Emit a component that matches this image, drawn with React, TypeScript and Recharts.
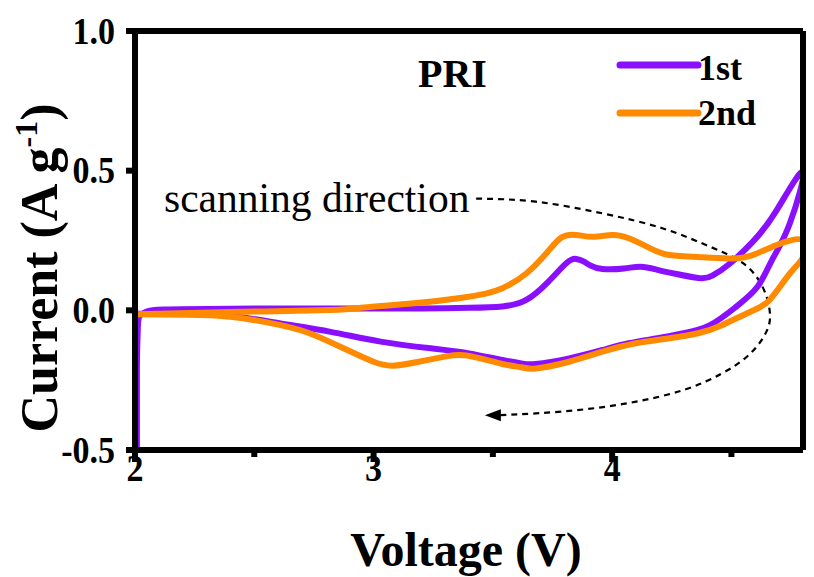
import React from "react";
import { LineChart, Line, XAxis, YAxis, Customized, ReferenceLine } from "recharts";

// 1st cycle (voltage, current)
const firstV = [2.008, 2.008, 2.012, 2.02, 2.05, 2.12, 2.4, 2.8, 3.2, 3.4, 3.54, 3.64, 3.73, 3.81, 3.85, 3.88, 3.91, 3.96, 4.05, 4.12, 4.19, 4.27, 4.37, 4.42, 4.49, 4.59, 4.69, 4.8,
  4.745, 4.67, 4.61, 4.52, 4.41, 4.3, 4.19, 4.07, 3.96, 3.82, 3.68, 3.62, 3.54, 3.4, 3.24, 3.03, 2.82, 2.61, 2.4, 2.2, 2.0];
const firstI = [-0.5, -0.2, -0.06, -0.02, -0.004, 0.003, 0.006, 0.007, 0.007, 0.009, 0.014, 0.037, 0.1, 0.17, 0.184, 0.175, 0.16, 0.148, 0.15, 0.156, 0.145, 0.13, 0.115, 0.124, 0.165, 0.246, 0.359, 0.496,
  0.312, 0.18, 0.085, 0.013, -0.053, -0.082, -0.1, -0.118, -0.142, -0.172, -0.192, -0.19, -0.178, -0.154, -0.136, -0.112, -0.077, -0.047, -0.02, -0.012, -0.012];

// 2nd cycle
const secondV = [2.0, 2.1, 2.4, 2.82, 2.96, 3.17, 3.37, 3.47, 3.54, 3.64, 3.73, 3.79, 3.85, 3.92, 4.0, 4.07, 4.16, 4.24, 4.38, 4.51, 4.59, 4.69, 4.8,
  4.8, 4.745, 4.66, 4.58, 4.46, 4.36, 4.24, 4.1, 3.96, 3.82, 3.68, 3.62, 3.54, 3.4, 3.31, 3.19, 3.08, 3.0, 2.89, 2.75, 2.61, 2.4, 2.2, 2.0];
const secondI = [-0.014, -0.012, -0.006, 0.001, 0.01, 0.025, 0.045, 0.06, 0.079, 0.132, 0.21, 0.262, 0.27, 0.263, 0.27, 0.258, 0.222, 0.198, 0.19, 0.186, 0.198, 0.234, 0.252,
  0.19, 0.132, 0.037, -0.005, -0.053, -0.082, -0.1, -0.118, -0.148, -0.184, -0.208, -0.204, -0.192, -0.163, -0.164, -0.184, -0.198, -0.184, -0.142, -0.088, -0.053, -0.023, -0.016, -0.014];

// scanning-direction guide (annotation)
const arrowV = [3.43, 3.68, 3.96, 4.21, 4.41, 4.55, 4.63, 4.66, 4.65, 4.58, 4.46, 4.3, 4.1, 3.89, 3.68, 3.5];
const arrowI = [0.4, 0.389, 0.347, 0.294, 0.228, 0.168, 0.085, 0.001, -0.07, -0.154, -0.226, -0.285, -0.327, -0.354, -0.369, -0.376];

const xTicks = [2, 2.5, 3, 3.5, 4, 4.5];
const yTicks = [-0.5, 0, 0.5, 1.0];
const xDomain = [2, 4.8];
const yDomain = [-0.5, 1.0];

const seriesNames = ["1st", "2nd"];
const colors = ["#8B0FFF", "#FF8A00"];

const toPts = (xs: number[], ys: number[]) => xs.map((x, i) => ({ x, y: ys[i] }));
const firstData = toPts(firstV, firstI);
const secondData = toPts(secondV, secondI);
const arrowData = toPts(arrowV, arrowI);

const FONT = "'Liberation Serif', 'Times New Roman', serif";

const XTick = (props: any) => {
  const { x, y, payload } = props;
  const major = Number.isInteger(payload.value);
  return (
    <g>
      <line x1={x} x2={x} y1={y} y2={y + (major ? 12 : 7)} stroke="#000" strokeWidth={6} />
      {major && (
        <text x={x} y={y + 31} textAnchor="middle" fontFamily={FONT} fontWeight="bold" fontSize={34} fill="#000"
          transform={`translate(0 ${-(y + 31) * 0.1}) scale(1 1.1)`}>
          {payload.value}
        </text>
      )}
    </g>
  );
};

const YTick = (props: any) => {
  const { x, y, payload } = props;
  return (
    <g>
      <line x1={x} x2={x - 9} y1={y} y2={y} stroke="#000" strokeWidth={6} />
      <g transform={`translate(0 ${-y * 0.1}) scale(1 1.1)`}>
        <text x={x - 20} y={y} dy="0.34em" textAnchor="end" fontFamily={FONT} fontWeight="bold" fontSize={34} fill="#000">
          {Number(payload.value).toFixed(1)}
        </text>
      </g>
    </g>
  );
};

const ArrowDot = (props: any) => {
  const { cx, cy, index } = props;
  if (index !== arrowData.length - 1) return <g key={`d${index}`} />;
  return <path key={`d${index}`} d={`M${cx - 8},${cy} L${cx + 8},${cy - 6} L${cx + 8},${cy + 6} Z`} fill="#000" />;
};

const LegendBox = () => (
  <g>
    {seriesNames.map((n, i) => (
      <g key={n}>
        <line x1={620} x2={698} y1={65 + i * 48} y2={65 + i * 48} stroke={colors[i]} strokeWidth={7} strokeLinecap="round" />
        <text x={698} y={80 + i * 45} fontFamily={FONT} fontWeight="bold" fontSize={36} fill="#000">{n}</text>
      </g>
    ))}
  </g>
);

const Annotations = () => (
  <g>
    <text x={418} y={87} fontFamily={FONT} fontWeight="bold" fontSize={40} fill="#000">PRI</text>
    <text x={164} y={212} fontFamily={FONT} fontSize={41.5} fill="#000">scanning direction</text>
  </g>
);

const YTitle = () => (
  <text transform="translate(57,268) rotate(-90)" textAnchor="middle" fontFamily={FONT} fontWeight="bold" fontSize={52} fill="#000">
    Current (A g<tspan dy={-20} fontSize={32}>-1</tspan><tspan dy={20}>)</tspan>
  </text>
);

const XTitle = () => (
  <text x={466} y={566} textAnchor="middle" fontFamily={FONT} fontWeight="bold" fontSize={48} fill="#000">Voltage (V)</text>
);

export default function App() {
  return (
    <div style={{ position: "absolute", left: 0, top: 0, width: 814, height: 577, background: "#fff" }}>
      <LineChart width={814} height={577} margin={{ top: 31, right: 11, left: 0, bottom: 0 }}>
        <XAxis type="number" dataKey="x" domain={xDomain} ticks={xTicks} interval={0} allowDataOverflow
          height={127} tickSize={0} tickMargin={0} tickLine={false} tick={<XTick />} axisLine={{ stroke: "#000", strokeWidth: 6 }} />
        <YAxis type="number" dataKey="y" domain={yDomain} ticks={yTicks} interval={0} allowDataOverflow
          width={135} tickSize={0} tickMargin={0} tickLine={false} tick={<YTick />} axisLine={{ stroke: "#000", strokeWidth: 6 }} />
        <Line data={arrowData} dataKey="y" type="natural" stroke="#000" strokeWidth={2.2}
          strokeDasharray="6 5" dot={ArrowDot} activeDot={false} isAnimationActive={false} legendType="none" />
        <Line data={firstData} dataKey="y" name={seriesNames[0]} type="natural" stroke={colors[0]} strokeWidth={6}
          strokeLinejoin="round" strokeLinecap="round" dot={false} activeDot={false} isAnimationActive={false} />
        <Line data={secondData} dataKey="y" name={seriesNames[1]} type="natural" stroke={colors[1]} strokeWidth={6}
          strokeLinejoin="round" strokeLinecap="round" dot={false} activeDot={false} isAnimationActive={false} />
        <ReferenceLine y={yDomain[1]} stroke="#000" strokeWidth={6} />
        <ReferenceLine x={xDomain[1]} stroke="#000" strokeWidth={6} />
        <Customized component={<LegendBox />} />
        <Customized component={<Annotations />} />
        <Customized component={<YTitle />} />
        <Customized component={<XTitle />} />
      </LineChart>
    </div>
  );
}
